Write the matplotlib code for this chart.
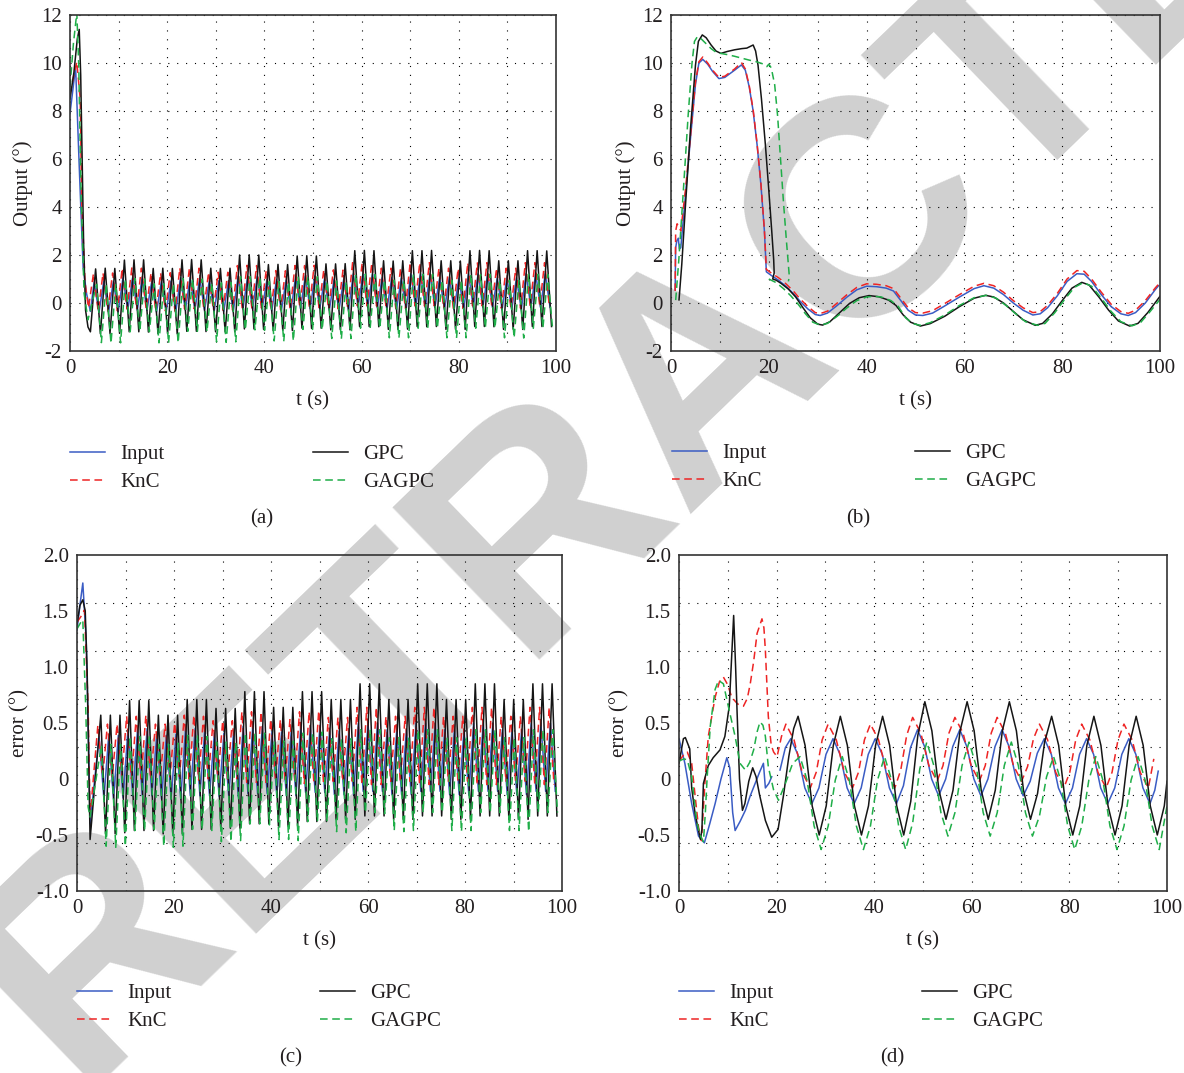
import numpy as np
import matplotlib
matplotlib.use('Agg')
import matplotlib.pyplot as plt
from matplotlib.lines import Line2D

plt.rcParams['font.family'] = ['Liberation Serif', 'DejaVu Serif']

W, H = 1184, 1073
NAN = float('nan')

LABELS = ['Input', 'KnC', 'GPC', 'GAGPC']
COLORS = {'Input': '#3a5cc4', 'KnC': '#ee2424', 'GPC': '#151515', 'GAGPC': '#1fae48'}
STYLES = {'Input': '-', 'KnC': (0, (5, 3)), 'GPC': '-', 'GAGPC': (0, (5, 3))}

# ---------------- panel (a): output, fast oscillation ----------------
# start of the run, (t, value) before the oscillation settles
A_START = {
    'Input': [(0.0, 7.9), (0.6, 8.9), (1.15, 9.85), (1.9, 5.7), (2.7, 1.5), (3.4, 0.4), (4.2, -0.35)],
    'KnC':   [(0.0, 8.7), (0.7, 9.4), (1.4, 10.05), (2.1, 8.5), (2.4, 4.3), (3.1, 0.84), (3.8, -0.2)],
    'GPC':   [(0.0, 8.5), (0.8, 9.6), (1.5, 11.0), (1.9, 11.4), (2.2, 9.5), (2.5, 6.0), (2.8, 2.5),
              (3.2, -0.3), (3.7, -1.0), (4.2, -1.2)],
    'GAGPC': [(0.0, 9.0), (0.7, 10.8), (1.4, 12.1), (1.8, 9.9), (2.3, 4.3), (2.9, 0.4), (3.7, -0.7)],
}
A_FIRST_PEAK = 5.27
A_PERIOD = 1.975
A_SHIFT = {'Input': -0.3, 'KnC': -0.45, 'GPC': 0.0, 'GAGPC': 0.2}
# one peak and the following trough per cycle
A_PEAKS = {
    'GPC': [1.42, 1.45, 1.44, 1.79, 1.80, 1.80, 1.44, 1.45, 1.44, 1.80, 1.81, 1.80,
            1.45, 1.44, 1.45, 2.00, 2.01, 2.00, 1.60, 1.61, 1.60, 1.96, 1.97, 1.96,
            1.63, 1.63, 1.64, 2.18, 2.19, 2.18, 1.76, 1.75, 1.76, 2.18, 2.18, 2.19,
            1.76, 1.76, 1.75, 2.18, 2.19, 2.18, 1.76, 1.76, 1.76, 2.18, 2.18, 2.17],
    'GAGPC': [0.78, 0.80, 0.80, 1.00, 1.02, 1.00, 0.80, 0.80, 0.82, 1.02, 1.02, 1.00,
              0.84, 0.84, 0.85, 1.10, 1.10, 1.08, 0.90, 0.90, 0.88, 1.10, 1.10, 1.10,
              0.92, 0.92, 0.90, 1.20, 1.20, 1.18, 0.95, 0.95, 0.95, 1.20, 1.20, 1.20,
              0.95, 0.95, 0.95, 1.20, 1.18, 1.20, 0.95, 0.95, 0.95, 1.20, 1.20, 1.20],
    'KnC': [1.22, 1.25, 1.25, 1.45, 1.46, 1.45, 1.25, 1.25, 1.26, 1.46, 1.46, 1.45,
            1.28, 1.28, 1.28, 1.56, 1.57, 1.56, 1.35, 1.35, 1.34, 1.56, 1.56, 1.57,
            1.38, 1.38, 1.37, 1.68, 1.68, 1.67, 1.45, 1.45, 1.45, 1.68, 1.68, 1.68,
            1.45, 1.45, 1.44, 1.68, 1.67, 1.68, 1.45, 1.45, 1.45, 1.68, 1.68, 1.68],
    'Input': [0.88, 0.90, 0.90, 1.05, 1.05, 1.06, 0.90, 0.90, 0.91, 1.05, 1.06, 1.05,
              0.93, 0.93, 0.93, 1.12, 1.12, 1.12, 0.97, 0.97, 0.96, 1.12, 1.12, 1.13,
              1.00, 1.00, 0.99, 1.22, 1.22, 1.21, 1.05, 1.05, 1.05, 1.22, 1.22, 1.22,
              1.05, 1.05, 1.04, 1.22, 1.21, 1.22, 1.05, 1.05, 1.05, 1.22, 1.22, 1.22],
}
A_TROUGHS = {
    'GPC': [-1.28, -1.27, -1.26, -1.20, -1.20, -1.21, -1.28, -1.27, -1.28, -1.18, -1.18, -1.19,
            -1.20, -1.21, -1.20, -1.08, -1.08, -1.10, -1.15, -1.14, -1.15, -1.05, -1.06, -1.05,
            -1.12, -1.11, -1.12, -0.98, -0.98, -0.99, -1.10, -1.10, -1.09, -0.98, -0.99, -0.98,
            -1.10, -1.10, -1.10, -0.98, -0.98, -0.99, -1.10, -1.09, -1.10, -0.98, -0.98, -0.98],
    'GAGPC': [-1.65, -1.68, -1.66, -1.20, -1.18, -1.20, -1.66, -1.68, -1.66, -1.18, -1.18, -1.20,
              -1.62, -1.64, -1.62, -1.12, -1.12, -1.14, -1.58, -1.60, -1.58, -1.10, -1.10, -1.12,
              -1.48, -1.50, -1.48, -1.05, -1.05, -1.06, -1.45, -1.46, -1.45, -1.05, -1.05, -1.05,
              -1.45, -1.46, -1.45, -1.05, -1.04, -1.05, -1.45, -1.45, -1.46, -1.05, -1.05, -1.05],
    'KnC': [-0.35, -0.33, -0.33, -0.25, -0.25, -0.26, -0.33, -0.33, -0.34, -0.25, -0.24, -0.25,
            -0.30, -0.30, -0.30, -0.20, -0.20, -0.21, -0.28, -0.28, -0.27, -0.18, -0.18, -0.19,
            -0.25, -0.25, -0.25, -0.12, -0.12, -0.13, -0.22, -0.22, -0.22, -0.12, -0.13, -0.12,
            -0.22, -0.22, -0.22, -0.12, -0.12, -0.13, -0.22, -0.22, -0.22, -0.12, -0.12, -0.12],
    'Input': [-0.40, -0.38, -0.38, -0.30, -0.30, -0.31, -0.38, -0.38, -0.39, -0.30, -0.29, -0.30,
              -0.35, -0.35, -0.35, -0.25, -0.25, -0.26, -0.33, -0.33, -0.32, -0.23, -0.23, -0.24,
              -0.30, -0.30, -0.30, -0.18, -0.18, -0.19, -0.28, -0.28, -0.28, -0.18, -0.19, -0.18,
              -0.28, -0.28, -0.28, -0.18, -0.18, -0.19, -0.28, -0.28, -0.28, -0.18, -0.18, -0.18],
}

# ---------------- panel (b): output, slow input ----------------
B_DATA = {
    'Input': [(0.85, 0.55), (0.95, 2.3), (1.2, 2.6), (1.5, 2.7), (1.7, 2.25), (2.0, 2.3), (3.0, 4.6),
              (4.0, 6.9), (5.0, 9.1), (5.7, 10.0), (6.5, 10.15), (7.5, 9.95), (8.5, 9.65), (9.8, 9.35),
              (11.0, 9.4), (12.0, 9.55), (13.0, 9.7), (14.4, 9.92), (15.2, 9.7), (16.0, 9.0), (16.8, 8.0),
              (17.6, 6.6), (18.4, 4.9), (19.1, 3.0), (19.5, 1.3), (20.5, 1.15), (22.0, 0.95), (23.5, 0.7),
              (25.0, 0.4), (26.5, 0.05), (28.0, -0.25), (29.5, -0.48), (30.5, -0.52), (32.0, -0.42),
              (34.0, -0.1), (36.0, 0.25), (38.0, 0.55), (40.0, 0.7), (42.0, 0.68), (44.0, 0.62), (45.5, 0.5),
              (47.0, 0.1), (48.5, -0.3), (50.0, -0.5), (51.5, -0.52), (53.5, -0.42), (56.0, -0.12),
              (59.0, 0.25), (62.0, 0.6), (64.0, 0.72), (66.0, 0.62), (68.0, 0.35), (70.0, 0.0), (72.0, -0.3),
              (74.0, -0.5), (75.5, -0.45), (77.0, -0.2), (79.0, 0.3), (81.0, 0.9), (83.0, 1.22), (84.5, 1.2),
              (86.0, 0.9), (88.0, 0.35), (90.0, -0.15), (92.0, -0.45), (93.5, -0.52), (95.0, -0.4),
              (97.0, 0.0), (99.0, 0.55), (99.7, 0.72)],
    'KnC': [(0.85, 0.5), (0.95, 3.0), (1.25, 3.3), (1.6, 3.2), (2.0, 3.0), (3.0, 4.8), (4.0, 7.0),
            (5.0, 9.2), (5.7, 10.05), (6.5, 10.25), (7.5, 10.0), (8.5, 9.7), (9.8, 9.4), (11.0, 9.45),
            (12.0, 9.6), (13.0, 9.75), (14.4, 10.02), (15.2, 9.75), (16.0, 9.05), (16.8, 8.05), (17.6, 6.65),
            (18.4, 4.95), (19.1, 3.05), (19.5, 1.4), (20.5, 1.25), (22.0, 1.05), (23.5, 0.8), (25.0, 0.5),
            (26.5, 0.15), (28.0, -0.15), (29.5, -0.4), (30.5, -0.44), (32.0, -0.34), (34.0, 0.0),
            (36.0, 0.35), (38.0, 0.65), (40.0, 0.8), (42.0, 0.78), (44.0, 0.72), (45.5, 0.6), (47.0, 0.2),
            (48.5, -0.2), (50.0, -0.4), (51.5, -0.42), (53.5, -0.32), (56.0, -0.02), (59.0, 0.35),
            (62.0, 0.7), (64.0, 0.82), (66.0, 0.72), (68.0, 0.45), (70.0, 0.1), (72.0, -0.2), (74.0, -0.4),
            (75.5, -0.36), (77.0, -0.1), (79.0, 0.4), (81.0, 1.0), (83.0, 1.35), (84.5, 1.32), (86.0, 1.0),
            (88.0, 0.45), (90.0, -0.05), (92.0, -0.36), (93.5, -0.43), (95.0, -0.3), (97.0, 0.1),
            (99.0, 0.62), (99.7, 0.78)],
    'GPC': [(1.64, 0.13), (2.2, 1.6), (3.0, 4.2), (4.0, 7.3), (5.0, 9.9), (5.6, 10.9), (6.4, 11.17),
            (7.2, 11.05), (8.2, 10.75), (9.2, 10.5), (10.2, 10.4), (11.5, 10.48), (13.0, 10.55),
            (14.5, 10.6), (15.5, 10.62), (16.3, 10.7), (16.8, 10.75), (17.3, 10.5), (17.8, 9.9),
            (18.5, 8.5), (19.3, 6.6), (20.0, 4.7), (20.6, 3.0), (21.0, 1.8), (21.1, 1.25), (20.8, 1.0),
            (21.5, 0.95), (22.5, 0.82), (24.0, 0.58), (25.5, 0.25), (27.0, -0.2), (28.5, -0.62),
            (30.0, -0.88), (31.0, -0.92), (32.5, -0.78), (34.5, -0.4), (36.5, -0.02), (38.5, 0.22),
            (40.5, 0.31), (42.5, 0.26), (44.5, 0.12), (46.0, -0.1), (47.5, -0.5), (49.0, -0.8),
            (51.0, -0.96), (53.0, -0.86), (56.0, -0.55), (59.0, -0.15), (62.0, 0.2), (64.3, 0.32),
            (66.0, 0.25), (68.0, 0.0), (70.0, -0.35), (72.0, -0.7), (74.5, -0.93), (76.0, -0.85),
            (78.0, -0.45), (80.0, 0.1), (82.0, 0.62), (84.0, 0.86), (85.5, 0.75), (87.5, 0.25),
            (89.5, -0.3), (91.5, -0.75), (93.8, -0.96), (95.5, -0.85), (97.5, -0.4), (100.0, 0.28)],
    'GAGPC': [(0.96, 0.12), (1.6, 1.8), (2.5, 4.6), (3.5, 7.8), (4.3, 10.0), (4.8, 10.9), (5.4, 11.1),
              (6.2, 11.0), (7.2, 10.8), (8.2, 10.6), (9.2, 10.45), (10.2, 10.4), (11.5, 10.35),
              (13.0, 10.28), (14.5, 10.2), (16.0, 10.12), (17.5, 10.05), (19.0, 9.95), (19.6, 9.85),
              (20.0, 9.95), (20.5, 9.8), (21.2, 9.1), (21.8, 7.8), (22.4, 6.0), (23.0, 4.2), (23.6, 2.6),
              (24.2, 1.1), (24.0, 0.9), (NAN, NAN),
              (20.0, 1.0), (21.5, 0.85), (23.0, 0.6), (24.5, 0.3), (26.0, -0.05), (27.5, -0.45),
              (29.0, -0.8), (30.5, -0.92), (32.0, -0.85), (34.0, -0.55), (36.0, -0.2), (38.0, 0.1),
              (40.0, 0.25), (41.5, 0.28), (43.0, 0.25), (45.0, 0.1), (46.5, -0.15), (48.0, -0.62),
              (49.5, -0.86), (51.0, -0.93), (53.0, -0.82), (56.0, -0.5), (59.0, -0.1), (62.0, 0.22),
              (64.5, 0.32), (66.5, 0.2), (68.5, -0.1), (70.5, -0.45), (72.5, -0.78), (75.0, -0.93),
              (76.5, -0.85), (78.5, -0.4), (80.5, 0.15), (82.5, 0.65), (84.3, 0.85), (86.0, 0.7),
              (88.0, 0.2), (90.0, -0.35), (92.0, -0.78), (94.3, -0.95), (96.0, -0.82), (98.0, -0.35),
              (100.0, 0.15)],
}

# ---------------- panel (c): error, fast oscillation ----------------
C_START = {
    'Input': [(0.0, 1.33), (0.6, 1.55), (1.2, 1.75), (1.9, 1.24), (2.4, 0.3), (2.7, -0.4)],
    'KnC':   [(0.0, 1.40), (0.8, 1.45), (1.55, 1.51), (2.3, 0.64), (2.7, -0.34)],
    'GPC':   [(0.0, 1.38), (0.6, 1.55), (1.2, 1.60), (1.7, 1.50), (2.1, 0.95), (2.4, 0.2), (2.7, -0.54)],
    'GAGPC': [(0.0, 1.34), (0.8, 1.40), (1.2, 1.42), (1.8, 0.64), (2.3, -0.25), (2.7, -0.34)],
}
C_FIRST_PEAK = 4.9
C_PERIOD = 1.98
C_SHIFT = {'Input': -0.34, 'KnC': -0.6, 'GPC': 0.0, 'GAGPC': 0.12}
C_PEAKS = {
    'GPC': [0.57, 0.57, 0.57, 0.70, 0.70, 0.70, 0.57, 0.57, 0.57, 0.71, 0.71, 0.71,
            0.63, 0.63, 0.63, 0.78, 0.78, 0.78, 0.64, 0.64, 0.64, 0.78, 0.78, 0.78,
            0.71, 0.71, 0.71, 0.85, 0.85, 0.85, 0.71, 0.71, 0.71, 0.85, 0.85, 0.85,
            0.71, 0.71, 0.71, 0.85, 0.85, 0.85, 0.71, 0.71, 0.71, 0.85, 0.85, 0.85],
    'GAGPC': [0.30, 0.31, 0.31, 0.38, 0.38, 0.39, 0.31, 0.31, 0.32, 0.39, 0.39, 0.38,
              0.33, 0.33, 0.33, 0.41, 0.41, 0.41, 0.34, 0.34, 0.34, 0.41, 0.41, 0.42,
              0.36, 0.36, 0.36, 0.44, 0.44, 0.44, 0.37, 0.37, 0.37, 0.44, 0.44, 0.44,
              0.37, 0.37, 0.37, 0.44, 0.44, 0.44, 0.37, 0.37, 0.37, 0.44, 0.44, 0.44],
    'KnC': [0.48, 0.49, 0.49, 0.56, 0.56, 0.57, 0.49, 0.49, 0.50, 0.57, 0.57, 0.56,
            0.52, 0.52, 0.52, 0.60, 0.60, 0.60, 0.53, 0.53, 0.53, 0.60, 0.60, 0.61,
            0.55, 0.55, 0.55, 0.64, 0.64, 0.64, 0.56, 0.56, 0.56, 0.64, 0.64, 0.64,
            0.56, 0.56, 0.56, 0.64, 0.64, 0.64, 0.56, 0.56, 0.56, 0.64, 0.64, 0.64],
    'Input': [0.38, 0.39, 0.39, 0.44, 0.44, 0.45, 0.39, 0.39, 0.40, 0.45, 0.45, 0.44,
              0.41, 0.41, 0.41, 0.47, 0.47, 0.47, 0.42, 0.42, 0.42, 0.47, 0.47, 0.48,
              0.43, 0.43, 0.43, 0.50, 0.50, 0.50, 0.44, 0.44, 0.44, 0.50, 0.50, 0.50,
              0.44, 0.44, 0.44, 0.50, 0.50, 0.50, 0.44, 0.44, 0.44, 0.50, 0.50, 0.50],
}
C_TROUGHS = {
    'GPC': [-0.49, -0.49, -0.48, -0.46, -0.46, -0.46, -0.49, -0.49, -0.49, -0.45, -0.45, -0.45,
            -0.44, -0.44, -0.44, -0.40, -0.40, -0.40, -0.42, -0.42, -0.42, -0.38, -0.38, -0.38,
            -0.36, -0.36, -0.36, -0.33, -0.33, -0.33, -0.36, -0.36, -0.36, -0.33, -0.33, -0.33,
            -0.36, -0.36, -0.36, -0.33, -0.33, -0.33, -0.36, -0.36, -0.36, -0.33, -0.33, -0.33],
    'GAGPC': [-0.60, -0.61, -0.60, -0.46, -0.46, -0.45, -0.60, -0.61, -0.60, -0.45, -0.45, -0.46,
              -0.56, -0.56, -0.55, -0.40, -0.40, -0.41, -0.54, -0.54, -0.55, -0.38, -0.38, -0.38,
              -0.47, -0.48, -0.47, -0.30, -0.30, -0.31, -0.46, -0.47, -0.46, -0.30, -0.30, -0.30,
              -0.46, -0.47, -0.46, -0.30, -0.30, -0.30, -0.46, -0.46, -0.47, -0.30, -0.30, -0.30],
    'KnC': [0.02, 0.02, 0.03, 0.00, 0.00, 0.00, 0.02, 0.02, 0.02, 0.00, -0.01, 0.00,
            0.00, 0.00, 0.00, -0.03, -0.03, -0.03, -0.01, -0.01, -0.01, -0.04, -0.04, -0.04,
            -0.02, -0.02, -0.02, -0.05, -0.05, -0.05, -0.02, -0.02, -0.02, -0.05, -0.05, -0.05,
            -0.02, -0.02, -0.02, -0.05, -0.05, -0.05, -0.02, -0.02, -0.02, -0.05, -0.05, -0.05],
    'Input': [-0.18, -0.18, -0.17, -0.15, -0.15, -0.15, -0.18, -0.18, -0.18, -0.15, -0.15, -0.15,
              -0.16, -0.16, -0.16, -0.13, -0.13, -0.13, -0.15, -0.15, -0.15, -0.12, -0.12, -0.12,
              -0.14, -0.14, -0.14, -0.11, -0.11, -0.11, -0.14, -0.14, -0.14, -0.11, -0.11, -0.11,
              -0.14, -0.14, -0.14, -0.11, -0.11, -0.11, -0.14, -0.14, -0.14, -0.11, -0.11, -0.11],
}

# ---------------- panel (d): error, slow input ----------------
D_DATA = {
    'Input': [(0.0, 0.36), (1.2, 0.14), (2.6, -0.22), (4.0, -0.51), (5.2, -0.57), (6.3, -0.4), (7.4, -0.22),
              (8.6, 0.0), (9.8, 0.19), (10.4, 0.1), (11.0, -0.3), (11.5, -0.46), (12.5, -0.38), (13.6, -0.28),
              (14.6, -0.15), (15.6, -0.04), (16.5, 0.06), (17.3, 0.14), (17.7, -0.08), (18.4, -0.04),
              (19.0, 0.02), (NAN, NAN),
              (20.7, 0.08), (21.8, 0.28), (22.9, 0.36), (24.34, 0.22), (25.79, -0.08), (27.23, -0.22),
              (28.67, -0.08), (30.12, 0.22), (31.56, 0.36), (33.0, 0.22), (34.45, -0.08), (35.89, -0.22),
              (37.33, -0.08), (38.78, 0.22), (40.22, 0.36), (41.66, 0.22), (43.11, -0.08), (44.55, -0.22),
              (45.99, -0.06), (47.44, 0.28), (48.88, 0.44), (50.32, 0.29), (51.77, 0.0), (53.21, -0.15),
              (54.65, 0.0), (56.1, 0.29), (57.54, 0.44), (58.98, 0.29), (60.43, 0.0), (61.87, -0.15),
              (63.31, 0.0), (64.76, 0.29), (66.2, 0.44), (67.64, 0.29), (69.09, 0.0), (70.53, -0.15),
              (71.97, -0.02), (73.42, 0.23), (74.86, 0.36), (76.3, 0.22), (77.75, -0.08), (79.19, -0.22),
              (80.63, -0.08), (82.08, 0.22), (83.52, 0.36), (84.96, 0.22), (86.41, -0.08), (87.85, -0.22),
              (89.29, -0.08), (90.74, 0.22), (92.18, 0.36), (93.62, 0.22), (95.07, -0.08), (96.51, -0.22),
              (97.5, -0.1), (98.2, 0.07)],
    'KnC': [(0.0, 0.16), (1.2, 0.23), (1.7, 0.24), (2.6, 0.14), (3.3, -0.15), (4.0, -0.43), (4.6, -0.55),
            (5.3, -0.04), (6.0, 0.38), (7.4, 0.73), (8.3, 0.87), (9.1, 0.91), (10.0, 0.84), (10.8, 0.73),
            (12.0, 0.67), (13.2, 0.65), (14.0, 0.72), (14.6, 0.85), (15.3, 1.05), (16.0, 1.3), (17.0, 1.43),
            (17.4, 1.35), (17.7, 1.15), (18.3, 0.56), (18.9, 0.3), (19.4, 0.24), (20.1, 0.2), (21.0, 0.38),
            (21.9, 0.49), (23.57, 0.35), (25.23, 0.06), (26.9, -0.08), (28.12, 0.06), (29.34, 0.35),
            (30.56, 0.49), (32.23, 0.35), (33.89, 0.06), (35.56, -0.08), (36.78, 0.06), (38.0, 0.35),
            (39.22, 0.49), (40.89, 0.35), (42.55, 0.06), (44.22, -0.08), (45.44, 0.08), (46.66, 0.39),
            (47.88, 0.55), (49.55, 0.41), (51.21, 0.12), (52.88, -0.02), (54.1, 0.12), (55.32, 0.41),
            (56.54, 0.55), (58.21, 0.41), (59.87, 0.12), (61.54, -0.02), (62.76, 0.12), (63.98, 0.41),
            (65.2, 0.55), (66.87, 0.41), (68.53, 0.12), (70.2, -0.02), (71.42, 0.11), (72.64, 0.36),
            (73.86, 0.49), (75.53, 0.35), (77.19, 0.06), (78.86, -0.08), (80.08, 0.06), (81.3, 0.35),
            (82.52, 0.49), (84.19, 0.35), (85.85, 0.06), (87.52, -0.08), (88.74, 0.06), (89.96, 0.35),
            (91.18, 0.49), (92.85, 0.35), (94.51, 0.06), (96.18, -0.08), (97.3, 0.18)],
    'GPC': [(0.0, 0.14), (0.9, 0.36), (1.3, 0.37), (2.2, 0.27), (2.6, -0.08), (3.3, -0.31), (4.0, -0.46),
            (4.4, -0.54), (4.7, -0.45), (5.0, -0.04), (6.0, 0.12), (7.0, 0.19), (8.4, 0.26), (9.4, 0.38),
            (10.3, 0.65), (10.8, 1.1), (11.2, 1.46), (11.6, 1.0), (11.9, 0.6), (12.4, 0.0), (13.0, -0.28),
            (13.5, -0.22), (14.3, -0.02), (15.1, 0.1), (15.8, 0.02), (16.5, -0.14), (17.7, -0.37),
            (19.0, -0.52), (20.3, -0.45), (21.4, -0.15), (22.5, 0.2), (23.5, 0.45), (24.4, 0.56),
            (25.84, 0.30), (27.29, -0.24), (28.73, -0.50), (30.17, -0.24), (31.62, 0.30), (33.06, 0.56),
            (34.5, 0.30), (35.95, -0.24), (37.39, -0.50), (38.83, -0.24), (40.28, 0.30), (41.72, 0.56),
            (43.16, 0.30), (44.61, -0.24), (46.05, -0.50), (47.49, -0.20), (48.94, 0.39), (50.38, 0.69),
            (51.82, 0.43), (53.27, -0.10), (54.71, -0.36), (56.15, -0.10), (57.6, 0.43), (59.04, 0.69),
            (60.48, 0.43), (61.93, -0.10), (63.37, -0.36), (64.81, -0.10), (66.26, 0.43), (67.7, 0.69),
            (69.14, 0.43), (70.59, -0.10), (72.03, -0.36), (73.47, -0.13), (74.92, 0.33), (76.36, 0.56),
            (77.8, 0.30), (79.25, -0.24), (80.69, -0.50), (82.13, -0.24), (83.58, 0.30), (85.02, 0.56),
            (86.46, 0.30), (87.91, -0.24), (89.35, -0.50), (90.79, -0.24), (92.24, 0.30), (93.68, 0.56),
            (95.12, 0.30), (96.57, -0.24), (98.01, -0.50), (99.45, -0.24), (100.0, -0.02)],
    'GAGPC': [(0.0, 0.16), (1.0, 0.18), (1.7, 0.17), (2.6, 0.02), (3.6, -0.37), (4.3, -0.5), (5.0, -0.56),
              (5.4, -0.3), (5.7, -0.04), (6.4, 0.47), (7.4, 0.8), (8.1, 0.88), (9.1, 0.85), (10.1, 0.65),
              (11.5, 0.38), (12.5, 0.14), (13.6, 0.08), (14.5, 0.15), (15.3, 0.26), (16.0, 0.42), (16.6, 0.51),
              (17.2, 0.48), (17.7, 0.38), (18.3, 0.11), (19.4, -0.1), (20.4, -0.19), (21.8, -0.04),
              (23.3, 0.14), (24.8, 0.20), (26.24, -0.01), (27.69, -0.42), (29.13, -0.63), (30.57, -0.42),
              (32.02, -0.01), (33.46, 0.20), (34.9, -0.01), (36.35, -0.42), (37.79, -0.63), (39.23, -0.42),
              (40.68, -0.01), (42.12, 0.20), (43.56, -0.01), (45.01, -0.42), (46.45, -0.63), (47.89, -0.39),
              (49.34, 0.09), (50.78, 0.33), (52.22, 0.12), (53.67, -0.30), (55.11, -0.51), (56.55, -0.30),
              (58.0, 0.12), (59.44, 0.33), (60.88, 0.12), (62.33, -0.30), (63.77, -0.51), (65.21, -0.30),
              (66.66, 0.12), (68.1, 0.33), (69.54, 0.12), (70.99, -0.30), (72.43, -0.51), (73.87, -0.33),
              (75.32, 0.02), (76.76, 0.20), (78.2, -0.01), (79.65, -0.42), (81.09, -0.63), (82.53, -0.42),
              (83.98, -0.01), (85.42, 0.20), (86.86, -0.01), (88.31, -0.42), (89.75, -0.63), (91.19, -0.42),
              (92.64, -0.01), (94.08, 0.20), (95.52, -0.01), (96.97, -0.42), (98.41, -0.63), (100.0, -0.24)],
}

OUT_TICKS = [-2, 0, 2, 4, 6, 8, 10, 12]
ERR_TICKS = [-1.0, -0.5, 0, 0.5, 1.0, 1.5, 2.0]
ERR_TICKLABELS = ['-1.0', '-0.5', '0', '0.5', '1.0', '1.5', '2.0']
ERR_GRID = [2.0 - k * 3.0 / 7.0 for k in range(1, 7)]
T_TICKS = [0, 20, 40, 60, 80, 100]

TXT = '#231f20'
FS = 15


def oscillation(start, first, period, peaks, troughs):
    tp = first + period * np.arange(len(peaks))
    t = np.column_stack([tp, tp + period / 2]).ravel()
    v = np.column_stack([peaks, troughs]).ravel()
    st = np.array(start, dtype=float)
    return np.concatenate([st[:, 0], t]), np.concatenate([st[:, 1], v])


def pairs(data):
    arr = np.array(data, dtype=float)
    return arr[:, 0], arr[:, 1]


def style_axes(ax, err):
    ax.set_facecolor('none')
    ax.set_xlim(0, 100)
    ax.set_xticks(T_TICKS)
    ax.set_xticks(range(10, 100, 10), minor=True)
    grid_kw = dict(color='black', linewidth=0.8, linestyle=(0, (1, 7)))
    ax.xaxis.grid(True, which='minor', **grid_kw)
    ax.xaxis.grid(True, which='major', **grid_kw)
    if err:
        ax.set_ylim(-1.0, 2.0)
        ax.set_yticks(ERR_TICKS)
        ax.set_yticklabels(ERR_TICKLABELS)
        ax.set_yticks(ERR_GRID, minor=True)
        ax.yaxis.grid(True, which='minor', **grid_kw)
        ax.set_ylabel('error (°)', fontsize=15, color=TXT)
    else:
        ax.set_ylim(-2, 12)
        ax.set_yticks(OUT_TICKS)
        ax.set_yticklabels([str(v) for v in OUT_TICKS])
        ax.yaxis.grid(True, which='major', **grid_kw)
        ax.set_ylabel('Output (°)', fontsize=15, color=TXT)
    ax.set_xlabel('t (s)', fontsize=15, color=TXT)
    ax.tick_params(which='both', length=0, labelsize=FS, labelcolor=TXT, pad=6)
    for s in ax.spines.values():
        s.set_color('#333333')
        s.set_linewidth(1.2)
    ax.set_axisbelow(True)


def px_axes(fig, left, top, right, bottom):
    return fig.add_axes([left / W, 1 - bottom / H, (right - left) / W, (bottom - top) / H])


def add_legend(fig, x1, x2, ymid):
    handles = {k: Line2D([], [], color=COLORS[k], linestyle=STYLES[k], linewidth=1.1) for k in LABELS}
    common = dict(loc='center left', frameon=False, borderpad=0, borderaxespad=0, fontsize=15,
                  handlelength=1.7, handletextpad=0.72, labelspacing=0.4, labelcolor=TXT)
    fig.legend([handles['Input'], handles['KnC']], ['Input', 'KnC'],
               bbox_to_anchor=(x1 / W, 1 - ymid / H), **common)
    fig.legend([handles['GPC'], handles['GAGPC']], ['GPC', 'GAGPC'],
               bbox_to_anchor=(x2 / W, 1 - ymid / H), **common)


fig = plt.figure(figsize=(W / 100, H / 100), dpi=100)

# watermark
fig.text(705 / W, 1 - 370 / H, 'RETRACTED', rotation=44, rotation_mode='anchor',
         ha='center', va='center', fontsize=222, fontweight='bold', color='#d0d0d0',
         family=['Liberation Sans', 'DejaVu Sans'], zorder=-5)

ax_a = px_axes(fig, 70, 15, 556, 351)
ax_b = px_axes(fig, 671, 15, 1160, 351)
ax_c = px_axes(fig, 77, 555, 562, 891)
ax_d = px_axes(fig, 679, 555, 1167, 891)

for ax, err in [(ax_a, False), (ax_b, False), (ax_c, True), (ax_d, True)]:
    style_axes(ax, err)

for k in LABELS:
    kw = dict(color=COLORS[k], linestyle=STYLES[k], linewidth=1.1)
    t, v = oscillation(A_START[k], A_FIRST_PEAK + A_SHIFT[k], A_PERIOD, A_PEAKS[k], A_TROUGHS[k])
    ax_a.plot(t, v, **kw)
    t, v = pairs(B_DATA[k])
    ax_b.plot(t, v, **kw)
    t, v = oscillation(C_START[k], C_FIRST_PEAK + C_SHIFT[k], C_PERIOD, C_PEAKS[k], C_TROUGHS[k])
    ax_c.plot(t, v, **kw)
    t, v = pairs(D_DATA[k])
    ax_d.plot(t, v, **kw)

for ax in (ax_a, ax_b, ax_c, ax_d):
    ax.xaxis.set_label_coords(0.5, -0.12)
ax_a.yaxis.set_label_coords(-0.076, 0.5)
ax_b.yaxis.set_label_coords(-0.072, 0.5)
ax_c.yaxis.set_label_coords(-0.097, 0.5)
ax_d.yaxis.set_label_coords(-0.101, 0.5)

add_legend(fig, 70, 313, 468.5)
add_legend(fig, 672, 915, 467.5)
add_legend(fig, 77, 320, 1007.5)
add_legend(fig, 679, 922, 1007.5)

for x, y, s in [(262, 519, '(a)'), (858, 519, '(b)'), (291, 1058, '(c)'), (892, 1058, '(d)')]:
    fig.text(x / W, 1 - y / H, s, ha='center', va='center', fontsize=15, color=TXT)

fig.savefig('out.png', dpi=100)
